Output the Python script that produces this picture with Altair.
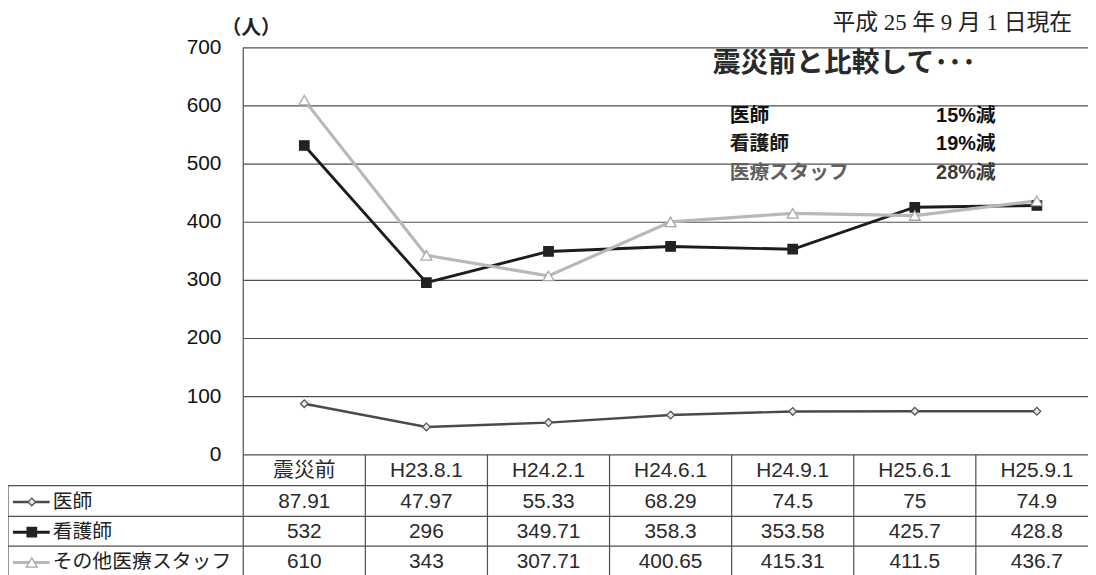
import altair as alt
import pandas as pd

# ---------------- data ----------------
categories = ["震災前", "H23.8.1", "H24.2.1", "H24.6.1", "H24.9.1", "H25.6.1", "H25.9.1"]
series_names = ["医師", "看護師", "その他医療スタッフ"]
doctors = [87.91, 47.97, 55.33, 68.29, 74.5, 75, 74.9]
nurses = [532, 296, 349.71, 358.3, 353.58, 425.7, 428.8]
others = [610, 343, 307.71, 400.65, 415.31, 411.5, 436.7]
y_ticks = [0, 100, 200, 300, 400, 500, 600, 700]
unit_label = "（人）"
date_note = "平成 25 年 9 月 1 日現在"
compare_title = "震災前と比較して･･･"
compare_names = ["医師", "看護師", "医療スタッフ"]
compare_values = ["15%減", "19%減", "28%減"]

# ---------------- layout (chart pixels) ----------------
W, H = 1088, 567
PLOT_LEFT = 237
BAND = 123
ZERO_PX = 448
TOP_PX = 38
PX_PER_UNIT = (ZERO_PX - TOP_PX) / 700.0
ROW_EDGES_PX = [448, 479, 510, 540, 571]
LEGEND_LEFT_PX = 0
SANS = "Liberation Sans, Noto Sans CJK JP"
CJK = "Noto Sans CJK JP"
LINE_GRAY = "#4f4f4f"


def xd(px):
    return (px - PLOT_LEFT) / BAND


def yd(px):
    return (ZERO_PX - px) / PX_PER_UNIT


XS = alt.Scale(domain=[xd(0), xd(W)], range=[0, W], nice=False, zero=False)
YS = alt.Scale(domain=[yd(H), yd(0)], range=[H, 0], nice=False, zero=False)


def X(field):
    return alt.X(field, scale=XS, axis=None)


def Y(field):
    return alt.Y(field, scale=YS, axis=None)


row_centers = [yd((ROW_EDGES_PX[k] + ROW_EDGES_PX[k + 1]) / 2 + 1) for k in range(4)]

# ---------------- tables ----------------
recs = []
for r, (s, vals) in enumerate(zip(series_names, [doctors, nurses, others])):
    for i, (c, v) in enumerate(zip(categories, vals)):
        recs.append({"series": s, "cat": c, "xi": i + 0.5, "value": v,
                     "label": f"{v:g}", "ty": row_centers[r + 1]})
df = pd.DataFrame(recs)

hdr = pd.DataFrame({"cat": categories, "xi": [i + 0.5 for i in range(len(categories))],
                    "ty": [row_centers[0]] * len(categories)})

leg = pd.DataFrame({"series": series_names, "ty": row_centers[1:],
                    "lx0": [xd(5)] * 3, "lx1": [xd(42)] * 3, "mx": [xd(24)] * 3, "tx": [xd(45)] * 3})

grid = pd.DataFrame({"y": y_ticks, "x0": [0] * len(y_ticks), "x1": [len(categories)] * len(y_ticks),
                     "lx": [xd(PLOT_LEFT - 22)] * len(y_ticks),
                     "lab": [str(t) for t in y_ticks]})

hlines = pd.DataFrame({"y": [yd(p) for p in ROW_EDGES_PX[1:]],
                       "x0": [xd(LEGEND_LEFT_PX)] * 4, "x1": [len(categories)] * 4})
vlines = pd.DataFrame({"x": list(range(len(categories) + 1)) + [xd(LEGEND_LEFT_PX)],
                       "y0": [0] * (len(categories) + 1) + [yd(ROW_EDGES_PX[1])],
                       "y1": [yd(ROW_EDGES_PX[-1])] * (len(categories) + 2)})
left_border = pd.DataFrame({"x": [0], "y0": [700], "y1": [0]})

color_scale = alt.Scale(domain=series_names, range=["#4a4a4a", "#1c1c1c", "#b8b8b8"])
width_scale = alt.Scale(domain=series_names, range=[2.5, 3.2, 2.0])
shape_scale = alt.Scale(domain=series_names, range=["diamond", "square", "triangle-up"])
fill_scale = alt.Scale(domain=series_names, range=["#e6e6e6", "#222222", "#ffffff"])
stroke_scale = alt.Scale(domain=series_names, range=["#555555", "#222222", "#a8a8a8"])
size_scale = alt.Scale(domain=series_names, range=[60, 120, 80])

# ---------------- layers ----------------
grid_layer = alt.Chart(grid).mark_rule(color=LINE_GRAY, strokeWidth=1.2).encode(
    x=X("x0:Q"), x2="x1:Q", y=Y("y:Q"),
)
ylabels = alt.Chart(grid).mark_text(font=SANS, fontSize=21, color="#111", align="right",
                                    baseline="middle").encode(
    x=X("lx:Q"), y=Y("y:Q"), text="lab:N",
)

border_layer = alt.Chart(left_border).mark_rule(color=LINE_GRAY, strokeWidth=1.2).encode(
    x=X("x:Q"), y=Y("y0:Q"), y2="y1:Q",
)
hline_layer = alt.Chart(hlines).mark_rule(color=LINE_GRAY, strokeWidth=1.2).encode(
    x=X("x0:Q"), x2="x1:Q", y=Y("y:Q"),
)
vline_layer = alt.Chart(vlines).mark_rule(color=LINE_GRAY, strokeWidth=1.2).encode(
    x=X("x:Q"), y=Y("y0:Q"), y2="y1:Q",
)

lines = alt.Chart(df).mark_line().encode(
    x=X("xi:Q"), y=Y("value:Q"),
    color=alt.Color("series:N", scale=color_scale, legend=None),
    strokeWidth=alt.StrokeWidth("series:N", scale=width_scale, legend=None),
    detail="series:N",
)

points = alt.Chart(df).mark_point(filled=False, strokeWidth=1.3, opacity=1).encode(
    x=X("xi:Q"), y=Y("value:Q"),
    shape=alt.Shape("series:N", scale=shape_scale, legend=None),
    fill=alt.Fill("series:N", scale=fill_scale, legend=None),
    stroke=alt.Stroke("series:N", scale=stroke_scale, legend=None),
    size=alt.Size("series:N", scale=size_scale, legend=None),
)

table_vals = alt.Chart(df).mark_text(font=SANS, fontSize=21, color="#2a2a2a", baseline="middle").encode(
    x=X("xi:Q"), y=Y("ty:Q"), text="label:N",
)
table_hdr = alt.Chart(hdr).mark_text(font=SANS, fontSize=21, color="#2a2a2a", baseline="middle").encode(
    x=X("xi:Q"), y=Y("ty:Q"), text="cat:N",
)

leg_lines = alt.Chart(leg).mark_rule().encode(
    x=X("lx0:Q"), x2="lx1:Q", y=Y("ty:Q"),
    color=alt.Color("series:N", scale=color_scale, legend=None),
    strokeWidth=alt.StrokeWidth("series:N", scale=width_scale, legend=None),
)
leg_points = alt.Chart(leg).mark_point(filled=False, strokeWidth=1.3, opacity=1).encode(
    x=X("mx:Q"), y=Y("ty:Q"),
    shape=alt.Shape("series:N", scale=shape_scale, legend=None),
    fill=alt.Fill("series:N", scale=fill_scale, legend=None),
    stroke=alt.Stroke("series:N", scale=stroke_scale, legend=None),
    size=alt.Size("series:N", scale=size_scale, legend=None),
)
leg_text = alt.Chart(leg).mark_text(font=CJK, fontSize=20, color="#222", align="left",
                                    baseline="middle").encode(
    x=X("tx:Q"), y=Y("ty:Q"), text="series:N",
)

# ---------------- annotations ----------------
unit_text = alt.Chart(pd.DataFrame({"t": [unit_label]})).mark_text(
    font=CJK, fontSize=20, fontWeight="bold", color="#222", align="center", baseline="middle"
).encode(x=alt.value(245), y=alt.value(18), text="t:N")

date_text = alt.Chart(pd.DataFrame({"t": [date_note]})).mark_text(
    font="Liberation Serif, Noto Sans CJK JP", fontSize=23, color="#222", align="right",
    baseline="alphabetic"
).encode(x=alt.value(1072), y=alt.value(20), text="t:N")

title_text = alt.Chart(pd.DataFrame({"t": [compare_title]})).mark_text(
    font=CJK, fontSize=28, fontWeight="bold", color="#2a2a2a", align="left", baseline="middle"
).encode(x=alt.value(710), y=alt.value(54), text="t:N")

cmp = pd.DataFrame({"name": compare_names, "pct": compare_values,
                    "py": [yd(107), yd(135), yd(164.5)],
                    "nx": [xd(727)] * 3, "vx": [xd(995)] * 3})
cmp_color = alt.Scale(domain=compare_names, range=["#111111", "#1a1a1a", "#606060"])
cmp_pct_color = alt.Scale(domain=compare_names, range=["#111111", "#111111", "#3a3a3a"])
cmp_names = alt.Chart(cmp).mark_text(font=CJK, fontSize=20, fontWeight="bold", align="left",
                                     baseline="middle").encode(
    x=X("nx:Q"), y=Y("py:Q"), text="name:N",
    color=alt.Color("name:N", scale=cmp_color, legend=None),
)
cmp_vals = alt.Chart(cmp).mark_text(font="Liberation Sans, Noto Sans CJK JP", fontSize=20,
                                    fontWeight="bold", align="right", baseline="middle").encode(
    x=X("vx:Q"), y=Y("py:Q"), text="pct:N",
    color=alt.Color("name:N", scale=cmp_pct_color, legend=None),
)

chart = alt.layer(
    grid_layer, ylabels, border_layer, hline_layer, vline_layer,
    lines, points, table_hdr, table_vals, leg_lines, leg_points, leg_text,
    unit_text, date_text, title_text, cmp_names, cmp_vals,
).resolve_scale(color="independent").properties(
    width=W, height=H, padding=0, autosize=alt.AutoSizeParams(type="none"),
    background="white",
).configure_view(strokeWidth=0)

chart.save("out.html", embed_options={"renderer": "svg", "actions": False})
